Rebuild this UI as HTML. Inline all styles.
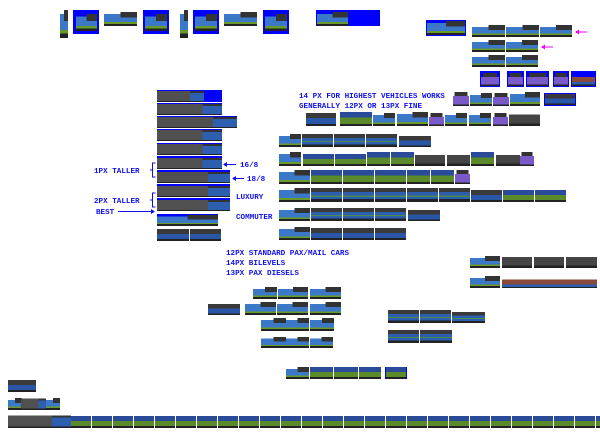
<!DOCTYPE html>
<html><head><meta charset="utf-8"><style>
html,body{margin:0;padding:0;background:#fff;width:600px;height:440px;overflow:hidden}
svg{display:block}
text{font-family:"Liberation Mono",monospace;font-size:7.6px;fill:#1010ee;font-weight:bold}
</style></head><body>
<svg width="600" height="440" viewBox="0 0 600 440" xmlns="http://www.w3.org/2000/svg" shape-rendering="crispEdges">
<defs>
<symbol id="car" viewBox="0 0 10 10" preserveAspectRatio="none">
<rect x="0" y="0" width="10" height="3" fill="#3a3a3a"/><rect x="0" y="3" width="10" height="5" fill="#2d5fb0"/>
<rect x="0" y="5.5" width="10" height="0.8" fill="#4a8a4a"/><rect x="0" y="8" width="10" height="2" fill="#222"/>
</symbol>
<symbol id="dcar" viewBox="0 0 10 10" preserveAspectRatio="none">
<rect x="0" y="0" width="10" height="4" fill="#3a3a3a"/><rect x="0" y="4" width="10" height="4.5" fill="#2a56a8"/>
<rect x="0" y="8.5" width="10" height="1.5" fill="#222"/>
</symbol>
<symbol id="gcar" viewBox="0 0 10 10" preserveAspectRatio="none">
<rect x="0" y="0" width="10" height="4" fill="#2a4a9a"/><rect x="0" y="4" width="10" height="4.5" fill="#5a8a2a"/>
<rect x="0" y="8.5" width="10" height="1.5" fill="#222"/>
</symbol>
<symbol id="loco" viewBox="0 0 10 10" preserveAspectRatio="none">
<rect x="0" y="1.5" width="10" height="6.5" fill="#3c78c8"/><rect x="5" y="0" width="5" height="4" fill="#333"/>
<rect x="0" y="7.2" width="10" height="1.2" fill="#6a9a2a"/><rect x="0" y="8.4" width="10" height="1.6" fill="#222"/>
</symbol>
<symbol id="steam" viewBox="0 0 10 10" preserveAspectRatio="none">
<rect x="0" y="1" width="7" height="8" fill="#505050"/><rect x="7" y="2" width="3" height="7" fill="#2d5fb0"/>
<rect x="7" y="1" width="3" height="1.5" fill="#333"/><rect x="0" y="9" width="10" height="1" fill="#222"/>
</symbol>
<symbol id="tank" viewBox="0 0 10 10" preserveAspectRatio="none">
<rect x="0" y="1" width="10" height="7" fill="#454545"/><rect x="0" y="8" width="10" height="2" fill="#222"/>
</symbol>
<symbol id="flat" viewBox="0 0 10 10" preserveAspectRatio="none">
<rect x="0" y="3" width="10" height="4" fill="#8a4a3a"/><rect x="0" y="7" width="10" height="2" fill="#2d5fb0"/><rect x="0" y="9" width="10" height="1" fill="#222"/>
</symbol>
<symbol id="purp" viewBox="0 0 10 10" preserveAspectRatio="none">
<rect x="1" y="0" width="8" height="3" fill="#333"/><rect x="0" y="3" width="10" height="6" fill="#7a5ac8"/><rect x="0" y="9" width="10" height="1" fill="#222"/>
</symbol>
</defs>

<!-- top row -->
<use href="#loco" x="60" y="10" width="8" height="28"/>
<rect x="73" y="10" width="26" height="24" fill="#00f"/><use href="#loco" x="76" y="14" width="21" height="17"/>
<use href="#loco" x="104" y="12" width="33" height="14"/>
<rect x="143" y="10" width="26" height="24" fill="#00f"/><use href="#loco" x="145" y="14" width="22" height="17"/>
<use href="#loco" x="180" y="10" width="8" height="28"/>
<rect x="193" y="10" width="26" height="24" fill="#00f"/><use href="#loco" x="195" y="14" width="22" height="17"/>
<use href="#loco" x="224" y="12" width="33" height="14"/>
<rect x="263" y="10" width="26" height="24" fill="#00f"/><use href="#loco" x="265" y="14" width="22" height="17"/>
<rect x="316" y="10" width="64" height="16" fill="#00f"/><use href="#loco" x="317" y="12" width="31" height="14"/>

<!-- top right -->
<rect x="426" y="20" width="40" height="16" fill="#00f"/><use href="#loco" x="427" y="21" width="38" height="14"/>
<use href="#loco" x="472" y="25" width="33" height="12"/><use href="#loco" x="506" y="25" width="33" height="12"/><use href="#loco" x="540" y="25" width="32" height="12"/>
<use href="#loco" x="472" y="40" width="33" height="12"/><use href="#loco" x="506" y="40" width="32" height="12"/>
<use href="#loco" x="472" y="55" width="33" height="12"/><use href="#loco" x="506" y="55" width="32" height="12"/>
<g stroke="#f0f" stroke-width="1.2"><line x1="577" y1="32" x2="587" y2="32"/><line x1="543" y1="47" x2="553" y2="47"/></g>
<g fill="#f0f"><path d="M575 32 l4 -2.5 v5z"/><path d="M541 47 l4 -2.5 v5z"/></g>
<rect x="480" y="71" width="20" height="16" fill="#00f"/><use href="#purp" x="481" y="73" width="18" height="13"/>
<rect x="507" y="71" width="17" height="16" fill="#00f"/><use href="#purp" x="508" y="73" width="15" height="13"/>
<rect x="526" y="71" width="23" height="16" fill="#00f"/><use href="#purp" x="527" y="73" width="21" height="13"/>
<rect x="553" y="71" width="16" height="16" fill="#00f"/><use href="#purp" x="554" y="73" width="14" height="13"/>
<rect x="571" y="71" width="25" height="16" fill="#00f"/><use href="#flat" x="572" y="73" width="23" height="13"/>

<text x="299" y="98">14 PX FOR HIGHEST VEHICLES WORKS</text>
<text x="299" y="108">GENERALLY 12PX OR 13PX FINE</text>

<use href="#purp" x="453" y="92" width="16" height="14"/><use href="#loco" x="470" y="93" width="22" height="13"/>
<use href="#purp" x="493" y="93" width="16" height="13"/><use href="#loco" x="510" y="92" width="30" height="14"/>
<rect x="544" y="93" width="32" height="13" fill="#00f"/><use href="#dcar" x="545" y="94" width="30" height="11"/>

<use href="#dcar" x="306" y="113" width="30" height="13"/><use href="#gcar" x="340" y="112" width="32" height="14"/>
<use href="#loco" x="373" y="113" width="22" height="13"/><use href="#loco" x="397" y="112" width="31" height="14"/>
<use href="#purp" x="429" y="113" width="15" height="13"/><use href="#loco" x="445" y="113" width="22" height="13"/>
<use href="#loco" x="469" y="113" width="22" height="13"/><use href="#purp" x="493" y="113" width="15" height="13"/>
<use href="#tank" x="509" y="113" width="31" height="13"/>

<!-- left stack -->
<rect x="157" y="90" width="65" height="12" fill="#00f"/><use href="#steam" x="157" y="90" width="47" height="12"/>
<rect x="157" y="103" width="65" height="12" fill="#00f"/><use href="#steam" x="157" y="103" width="65" height="12"/>
<rect x="157" y="116" width="80" height="12" fill="#00f"/><use href="#steam" x="157" y="116" width="80" height="12"/>
<rect x="157" y="129" width="65" height="12" fill="#00f"/><use href="#steam" x="157" y="129" width="65" height="12"/>
<rect x="157" y="143" width="65" height="12" fill="#00f"/><use href="#steam" x="157" y="143" width="65" height="12"/>
<rect x="157" y="156" width="65" height="13" fill="#00f"/><use href="#steam" x="157" y="157" width="65" height="12"/>
<rect x="157" y="170" width="73" height="13" fill="#00f"/><use href="#steam" x="157" y="171" width="73" height="12"/>
<rect x="157" y="184" width="73" height="13" fill="#00f"/><use href="#steam" x="157" y="185" width="73" height="12"/>
<rect x="157" y="198" width="73" height="13" fill="#00f"/><use href="#steam" x="157" y="199" width="73" height="12"/>
<rect x="157" y="214" width="61" height="12" fill="#00f"/><use href="#loco" x="157" y="215" width="61" height="11"/>
<use href="#dcar" x="157" y="229" width="32" height="12"/><use href="#dcar" x="190" y="229" width="31" height="12"/>

<g stroke="#1010ee" stroke-width="1" fill="none">
<path d="M155.5 163 h-3 v14 h3 M152 170 h-2"/><path d="M155.5 193 h-3 v14 h3 M152 200 h-2"/>
<line x1="118" y1="211.5" x2="152" y2="211.5"/><line x1="225" y1="164.5" x2="236" y2="164.5"/><line x1="234" y1="178.5" x2="244" y2="178.5"/>
</g>
<g fill="#1010ee"><path d="M155 211.5 l-4 -2.5 v5z"/><path d="M223 164.5 l4 -2.5 v5z"/><path d="M232 178.5 l4 -2.5 v5z"/></g>
<text x="94" y="173">1PX TALLER</text>
<text x="94" y="203">2PX TALLER</text>
<text x="96" y="214">BEST</text>
<text x="240" y="167">16/8</text>
<text x="247" y="181">18/8</text>
<text x="236" y="199">LUXURY</text>
<text x="236" y="219">COMMUTER</text>

<!-- right rows -->
<use href="#loco" x="279" y="134" width="22" height="13"/>
<use href="#car" x="302" y="134" width="31" height="13"/><use href="#car" x="334" y="134" width="31" height="13"/><use href="#car" x="366" y="134" width="31" height="13"/><use href="#dcar" x="399" y="136" width="32" height="11"/>

<use href="#loco" x="279" y="152" width="22" height="14"/>
<use href="#gcar" x="303" y="154" width="31" height="12"/><use href="#gcar" x="335" y="154" width="31" height="12"/><use href="#gcar" x="367" y="152" width="23" height="14"/><use href="#gcar" x="391" y="152" width="23" height="14"/>
<use href="#tank" x="415" y="154" width="30" height="12"/><use href="#tank" x="447" y="154" width="23" height="12"/><use href="#gcar" x="471" y="152" width="23" height="14"/><use href="#tank" x="496" y="154" width="24" height="12"/><use href="#purp" x="520" y="152" width="14" height="14"/>

<use href="#loco" x="279" y="170" width="31" height="14"/>
<use href="#gcar" x="311" y="170" width="31" height="14"/><use href="#gcar" x="343" y="170" width="31" height="14"/><use href="#gcar" x="375" y="170" width="31" height="14"/><use href="#gcar" x="407" y="170" width="23" height="14"/><use href="#gcar" x="431" y="170" width="23" height="14"/><use href="#purp" x="455" y="170" width="15" height="14"/>

<use href="#loco" x="279" y="188" width="31" height="14"/>
<use href="#car" x="311" y="188" width="31" height="14"/><use href="#car" x="343" y="188" width="31" height="14"/><use href="#car" x="375" y="188" width="31" height="14"/><use href="#car" x="407" y="188" width="31" height="14"/><use href="#car" x="439" y="188" width="31" height="14"/><use href="#dcar" x="471" y="190" width="31" height="12"/><use href="#gcar" x="503" y="190" width="31" height="12"/><use href="#gcar" x="535" y="190" width="31" height="12"/>

<use href="#loco" x="279" y="208" width="31" height="13"/>
<use href="#car" x="311" y="208" width="31" height="13"/><use href="#car" x="343" y="208" width="31" height="13"/><use href="#car" x="375" y="208" width="31" height="13"/><use href="#dcar" x="408" y="210" width="32" height="11"/>

<use href="#loco" x="279" y="227" width="31" height="13"/>
<use href="#dcar" x="311" y="228" width="31" height="12"/><use href="#dcar" x="343" y="228" width="31" height="12"/><use href="#dcar" x="375" y="228" width="31" height="12"/>

<text x="226" y="255">12PX STANDARD PAX/MAIL CARS</text>
<text x="226" y="265">14PX BILEVELS</text>
<text x="226" y="275">13PX PAX DIESELS</text>

<use href="#loco" x="470" y="256" width="30" height="12"/><use href="#tank" x="502" y="256" width="30" height="12"/><use href="#tank" x="534" y="256" width="30" height="12"/><use href="#tank" x="566" y="256" width="31" height="12"/>
<use href="#loco" x="470" y="276" width="30" height="12"/><use href="#flat" x="502" y="276" width="95" height="12"/>

<!-- middle group -->
<use href="#dcar" x="208" y="304" width="32" height="11"/>
<use href="#loco" x="253" y="287" width="24" height="12"/><use href="#loco" x="278" y="287" width="30" height="12"/><use href="#loco" x="310" y="287" width="31" height="12"/>
<use href="#loco" x="245" y="302" width="31" height="13"/><use href="#loco" x="277" y="302" width="31" height="13"/><use href="#loco" x="310" y="302" width="31" height="13"/>
<use href="#loco" x="261" y="318" width="25" height="13"/><use href="#loco" x="286" y="318" width="23" height="13"/><use href="#loco" x="310" y="318" width="24" height="13"/>
<use href="#loco" x="261" y="337" width="25" height="11"/><use href="#loco" x="286" y="337" width="23" height="11"/><use href="#loco" x="310" y="337" width="23" height="11"/>

<use href="#car" x="388" y="310" width="31" height="13"/><use href="#car" x="420" y="310" width="31" height="13"/><use href="#car" x="452" y="312" width="33" height="11"/>
<use href="#car" x="388" y="330" width="31" height="13"/><use href="#car" x="420" y="330" width="32" height="13"/>

<use href="#loco" x="286" y="367" width="23" height="12"/><use href="#gcar" x="310" y="367" width="23" height="12"/><use href="#gcar" x="334" y="367" width="24" height="12"/><use href="#gcar" x="359" y="367" width="22" height="12"/>
<rect x="385" y="367" width="22" height="12" fill="#00f"/><use href="#gcar" x="386" y="367" width="20" height="12"/>

<!-- bottom left -->
<use href="#dcar" x="8" y="380" width="28" height="12"/>
<use href="#loco" x="8" y="398" width="14" height="12"/><use href="#steam" x="21" y="397" width="25" height="13"/><use href="#loco" x="46" y="398" width="14" height="12"/>
<use href="#steam" x="8" y="414" width="63" height="14"/>
<g>
<use href="#gcar" x="71" y="416" width="20" height="12"/><use href="#gcar" x="92" y="416" width="20" height="12"/><use href="#gcar" x="113" y="416" width="20" height="12"/><use href="#gcar" x="134" y="416" width="20" height="12"/><use href="#gcar" x="155" y="416" width="20" height="12"/><use href="#gcar" x="176" y="416" width="20" height="12"/><use href="#gcar" x="197" y="416" width="20" height="12"/><use href="#gcar" x="218" y="416" width="20" height="12"/><use href="#gcar" x="239" y="416" width="20" height="12"/><use href="#gcar" x="260" y="416" width="20" height="12"/><use href="#gcar" x="281" y="416" width="20" height="12"/><use href="#gcar" x="302" y="416" width="20" height="12"/><use href="#gcar" x="323" y="416" width="20" height="12"/><use href="#gcar" x="344" y="416" width="20" height="12"/><use href="#gcar" x="365" y="416" width="20" height="12"/><use href="#gcar" x="386" y="416" width="20" height="12"/><use href="#gcar" x="407" y="416" width="20" height="12"/><use href="#gcar" x="428" y="416" width="20" height="12"/><use href="#gcar" x="449" y="416" width="20" height="12"/><use href="#gcar" x="470" y="416" width="20" height="12"/><use href="#gcar" x="491" y="416" width="20" height="12"/><use href="#gcar" x="512" y="416" width="20" height="12"/><use href="#gcar" x="533" y="416" width="20" height="12"/><use href="#gcar" x="554" y="416" width="20" height="12"/><use href="#gcar" x="575" y="416" width="20" height="12"/><use href="#gcar" x="596" y="416" width="20" height="12"/>
</g>
</svg>
</body></html>
